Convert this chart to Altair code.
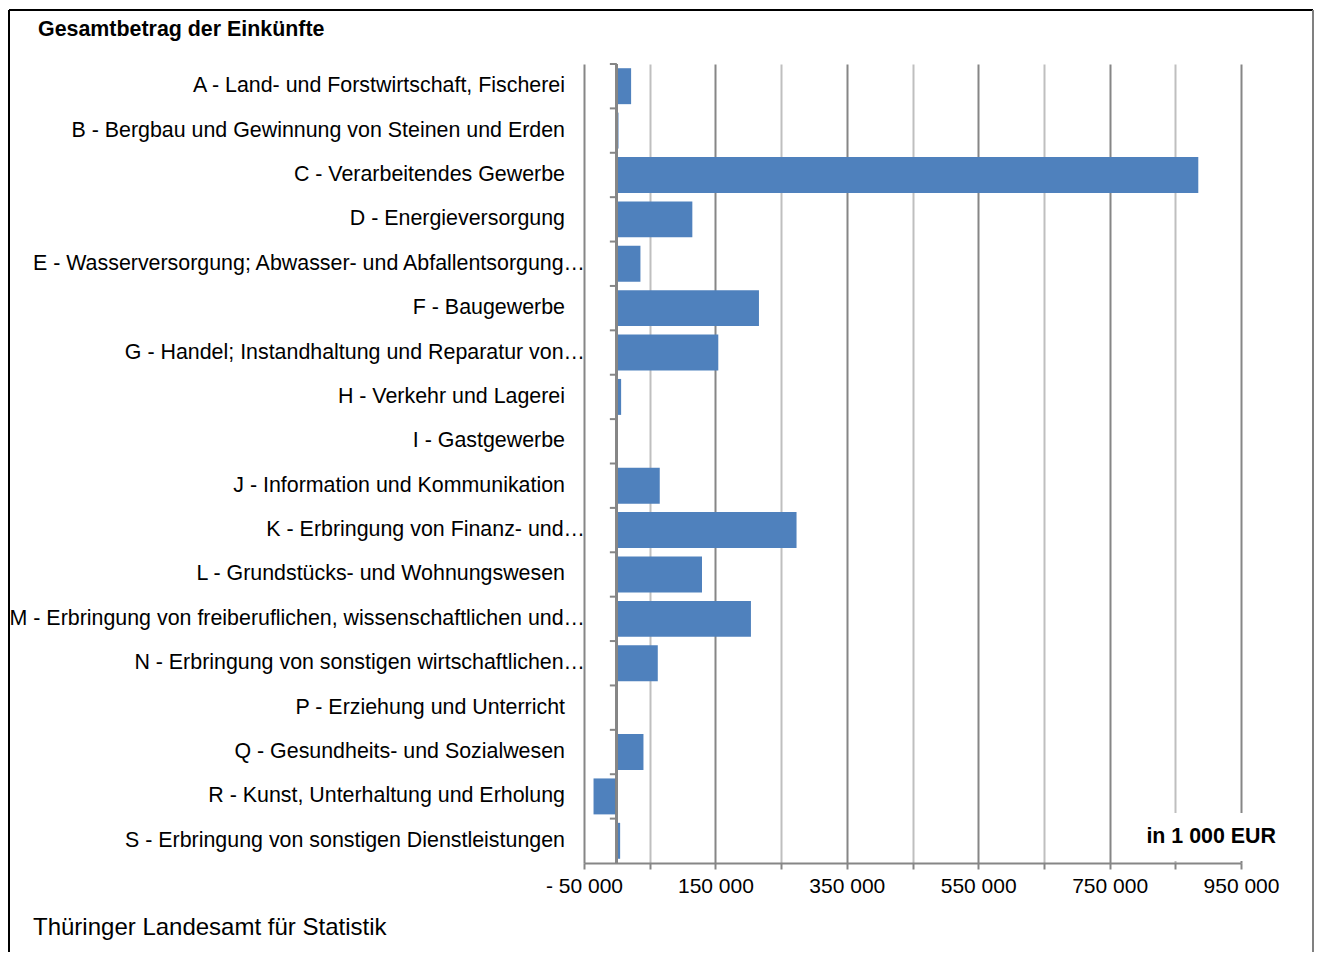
import altair as alt
import pandas as pd

categories = [
    "A - Land- und Forstwirtschaft, Fischerei",
    "B - Bergbau und Gewinnung von Steinen und Erden",
    "C - Verarbeitendes Gewerbe",
    "D - Energieversorgung",
    "E - Wasserversorgung; Abwasser- und Abfallentsorgung…",
    "F - Baugewerbe",
    "G - Handel; Instandhaltung und Reparatur von…",
    "H - Verkehr und Lagerei",
    "I - Gastgewerbe",
    "J - Information und Kommunikation",
    "K - Erbringung von Finanz- und…",
    "L - Grundstücks- und Wohnungswesen",
    "M - Erbringung von freiberuflichen, wissenschaftlichen und…",
    "N - Erbringung von sonstigen wirtschaftlichen…",
    "P - Erziehung und Unterricht",
    "Q - Gesundheits- und Sozialwesen",
    "R - Kunst, Unterhaltung und Erholung",
    "S - Erbringung von sonstigen Dienstleistungen",
]
values = [21700, 2500, 885000, 114900, 35900, 216300, 154400, 6500, 0,
          65300, 273500, 129600, 204100, 62300, -1200, 40500, -35500, 5000]

title_text = "Gesamtbetrag der Einkünfte"
source_text = "Thüringer Landesamt für Statistik"
unit_text = "in 1 000 EUR"
tick_values = list(range(-50000, 950001, 100000))

FONT = "Liberation Sans"
BAR = "#4F81BD"
DARK = "#868686"
LIGHT = "#BFBFBF"
FS = 21.4

df = pd.DataFrame({"label": categories, "value": values})

W, H = 657, 799
PAD_L, PAD_T = 576, 56
TOTAL_W, TOTAL_H = 1306, 944

yscale = alt.Scale(domain=categories, paddingInner=0.19, paddingOuter=0.095)
xscale = alt.Scale(domain=[-50000, 950000], nice=False, zero=False)

label_expr = ("(datum.value + 50000) % 200000 == 0 ? "
              "(datum.value < 0 ? '- ' : '') + replace(format(abs(datum.value), ',d'), ',', ' ') : ''")

xaxis = alt.Axis(
    values=tick_values, title=None, grid=True,
    gridColor={"condition": {"test": "(datum.value + 50000) % 200000 == 0", "value": DARK}, "value": LIGHT},
    gridWidth=2, domainColor=DARK, domainWidth=2, tickColor=DARK, tickWidth=2, tickSize=6,
    labelExpr=label_expr, labelFontSize=21, labelFont=FONT, labelColor="black",
    labelPadding=6, labelOverlap=False, labelFlush=False,
)

base = alt.Chart(df)

bars = base.mark_bar(color=BAR).encode(
    y=alt.Y("label:N", scale=yscale, axis=None, sort=None),
    x=alt.X("value:Q", scale=xscale, axis=xaxis),
)

zero_line = base.mark_rule(color=DARK, strokeWidth=2).encode(
    x=alt.datum(0),
)

step = H / len(categories)
bticks = base.mark_rule(color=DARK, strokeWidth=2, x2Offset=-7, yOffset=-0.19 * step / 2).encode(
    y=alt.Y("label:N", bandPosition=0),
    x=alt.datum(0),
    x2=alt.datum(0),
)

labels_full = base.transform_filter("indexof(datum.label, '…') < 0").mark_text(
    align="right", baseline="middle", font=FONT, fontSize=FS, color="black"
).encode(y=alt.Y("label:N"), x=alt.value(-19), text="label:N")

labels_trunc = base.transform_filter("indexof(datum.label, '…') >= 0").mark_text(
    align="right", baseline="middle", font=FONT, fontSize=FS, color="black"
).encode(y=alt.Y("label:N"), x=alt.value(1), text="label:N")


def one_text(txt, x, y, size, weight, align):
    return alt.Chart(pd.DataFrame({"t": [txt]})).mark_text(
        align=align, baseline="middle", font=FONT, fontSize=size, fontWeight=weight, color="black"
    ).encode(x=alt.value(x), y=alt.value(y), text="t:N")


frame_df = pd.DataFrame({"f": [1]})

# white box behind the unit label (hides the grid lines there, as in the original)
unit_box = alt.Chart(frame_df).mark_rect(color="white").encode(
    x=alt.value(1140 - 584), x2=alt.value(1290 - 584),
    y=alt.value(813 - 64), y2=alt.value(861 - 64))

title = one_text(title_text, 38 - 584, 30 - 64, FS, "bold", "left")
source = one_text(source_text, 33 - 584, 928 - 64, 24, "normal", "left")
unit = one_text(unit_text, 1276 - 584, 837 - 64, FS, "bold", "right")

left_b = alt.Chart(frame_df).mark_rule(color="black", strokeWidth=2).encode(
    x=alt.value(1 - PAD_L), y=alt.value(2 - PAD_T), y2=alt.value(TOTAL_H - PAD_T + 10))
top_b = alt.Chart(frame_df).mark_rule(color="black", strokeWidth=2).encode(
    x=alt.value(1 - PAD_L), x2=alt.value(TOTAL_W - 1 - PAD_L), y=alt.value(2 - PAD_T))
right_b = alt.Chart(frame_df).mark_rule(color="#808080", strokeWidth=2).encode(
    x=alt.value(TOTAL_W - 1 - PAD_L), y=alt.value(2 - PAD_T), y2=alt.value(TOTAL_H - PAD_T + 10))

chart = alt.layer(
    bars, zero_line, bticks, unit_box, labels_full, labels_trunc, title, source, unit,
    left_b, top_b, right_b
).properties(
    width=W, height=H,
    autosize=alt.AutoSizeParams(type="none"),
    padding={"left": PAD_L, "top": PAD_T, "right": TOTAL_W - PAD_L - W, "bottom": TOTAL_H - PAD_T - H},
    background="white",
).configure_view(strokeWidth=0)

chart.save("out.html", embed_options={"renderer": "svg", "actions": False})
